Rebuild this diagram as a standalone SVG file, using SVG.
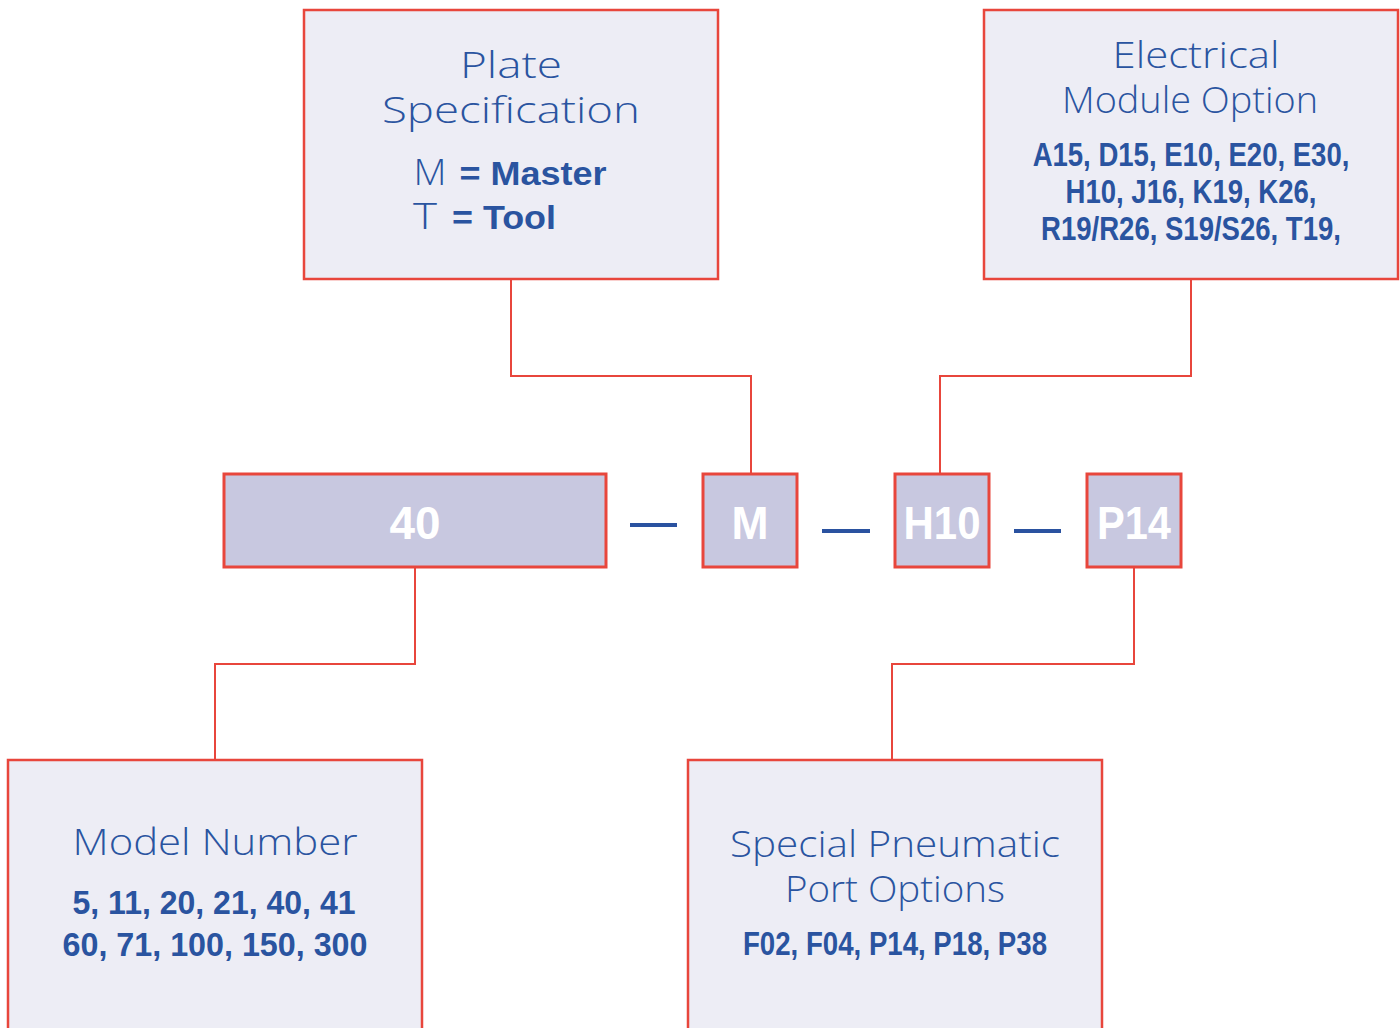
<svg xmlns="http://www.w3.org/2000/svg" width="1400" height="1028" viewBox="0 0 1400 1028">
<style>
.box{fill:#ededf5;stroke:#e8463c;stroke-width:2.5}
.code{fill:#c8c8e0;stroke:#e8463c;stroke-width:3}
.conn{fill:none;stroke:#e8463c;stroke-width:2}
.dash{stroke:#2a52a0;stroke-width:4}
.t{font-family:"Open Sans","DejaVu Sans",sans-serif;font-weight:300;fill:#2a54a0;font-size:36px;text-anchor:middle}
.b{font-family:"Liberation Sans",Arial,sans-serif;font-weight:bold;fill:#2a54a0;font-size:34px;text-anchor:middle}
.w{font-family:"Liberation Sans",Arial,sans-serif;font-weight:bold;fill:#ffffff;font-size:47px;text-anchor:middle}
</style>
<rect width="1400" height="1028" fill="#ffffff"/>
<g id="connectors">
<polyline class="conn" points="511,279 511,376 751,376 751,474"/>
<polyline class="conn" points="1191,279 1191,376 940,376 940,474"/>
<polyline class="conn" points="415,567 415,664 215,664 215,760"/>
<polyline class="conn" points="1134,567 1134,664 892,664 892,760"/>
<line class="dash" x1="630" y1="525" x2="677" y2="525"/>
<line class="dash" x1="822" y1="531" x2="870" y2="531"/>
<line class="dash" x1="1014" y1="531" x2="1061" y2="531"/>
</g>
<g id="plate">
<rect class="box" x="304" y="10" width="414" height="269"/>
<text class="t" x="511" y="78" textLength="102" lengthAdjust="spacingAndGlyphs">Plate</text>
<text class="t" x="511" y="123" textLength="258" lengthAdjust="spacingAndGlyphs">Specification</text>
<text class="t" x="430" y="185" textLength="33" lengthAdjust="spacingAndGlyphs">M</text>
<text class="b" x="533" y="185" font-size="36" textLength="147" lengthAdjust="spacingAndGlyphs">= Master</text>
<text class="t" x="425" y="229" textLength="24" lengthAdjust="spacingAndGlyphs">T</text>
<text class="b" x="504" y="229" font-size="36" textLength="104" lengthAdjust="spacingAndGlyphs">= Tool</text>
</g>
<g id="electrical">
<rect class="box" x="984" y="10" width="414" height="269"/>
<text class="t" x="1196" y="68" textLength="167" lengthAdjust="spacingAndGlyphs">Electrical</text>
<text class="t" x="1190" y="113" textLength="256" lengthAdjust="spacingAndGlyphs">Module Option</text>
<g transform="translate(1191,0) scale(0.81,1)">
<text class="b" x="0" y="166" font-size="30">A15, D15, E10, E20, E30,</text>
<text class="b" x="0" y="203" font-size="30">H10, J16, K19, K26,</text>
<text class="b" x="0" y="240" font-size="30">R19/R26, S19/S26, T19,</text>
</g>
</g>
<g id="code-40">
<rect class="code" x="224" y="474" width="382" height="93"/>
<text class="w" x="415" y="539" textLength="51" lengthAdjust="spacingAndGlyphs">40</text>
</g>
<g id="code-M">
<rect class="code" x="703" y="474" width="94" height="93"/>
<text class="w" x="750" y="539" textLength="37" lengthAdjust="spacingAndGlyphs">M</text>
</g>
<g id="code-H10">
<rect class="code" x="895" y="474" width="94" height="93"/>
<text class="w" x="942" y="539" textLength="77" lengthAdjust="spacingAndGlyphs">H10</text>
</g>
<g id="code-P14">
<rect class="code" x="1087" y="474" width="94" height="93"/>
<text class="w" x="1134" y="539" textLength="74" lengthAdjust="spacingAndGlyphs">P14</text>
</g>
<g id="model">
<rect class="box" x="8" y="760" width="414" height="280"/>
<text class="t" x="215" y="855" textLength="285" lengthAdjust="spacingAndGlyphs">Model Number</text>
<text class="b" x="214" y="914" textLength="283" lengthAdjust="spacingAndGlyphs">5, 11, 20, 21, 40, 41</text>
<text class="b" x="215" y="956" textLength="305" lengthAdjust="spacingAndGlyphs">60, 71, 100, 150, 300</text>
</g>
<g id="pneumatic">
<rect class="box" x="688" y="760" width="414" height="280"/>
<text class="t" x="895" y="857" textLength="330" lengthAdjust="spacingAndGlyphs">Special Pneumatic</text>
<text class="t" x="895" y="902" textLength="220" lengthAdjust="spacingAndGlyphs">Port Options</text>
<text class="b" x="895" y="955" font-size="30" textLength="304" lengthAdjust="spacingAndGlyphs">F02, F04, P14, P18, P38</text>
</g>
</svg>
